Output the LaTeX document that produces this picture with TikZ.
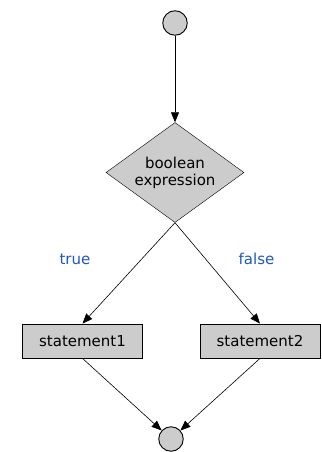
\documentclass[tikz,border=0pt]{standalone}
\usepackage{fontspec}
\setmainfont{DejaVu Sans}
\usetikzlibrary{shapes.geometric, arrows.meta, positioning}
\definecolor{labelblue}{RGB}{30,85,195}
\definecolor{boxgray}{RGB}{204,204,204}

\begin{document}
\begin{tikzpicture}[x=1pt,y=1pt,on grid,
    >={Triangle[length=10pt,width=8pt]},
    dot/.style={circle,draw,fill=boxgray,minimum size=24.5pt,inner sep=0pt,line width=0.9pt},
    test/.style={diamond,aspect=1.38,draw,fill=boxgray,minimum width=138pt,minimum height=100pt,
      inner sep=0pt,align=center,font=\fontsize{15}{17}\selectfont},
    stmt/.style={rectangle,draw,fill=boxgray,minimum width=120pt,minimum height=34pt,
      line width=0.8pt,font=\fontsize{15}{17}\selectfont},
    branch/.style={text=labelblue,font=\fontsize{15}{17}\selectfont}]
    \useasboundingbox (0,0) rectangle (321,-452);
    \node[dot] (start) at (175,-23) {};
    \node[test] (cond) [below=149.5pt of start] {boolean\\expression};
    \node[stmt] (s1) [below left=168.5pt and 92.5pt of cond] {statement1};
    \node[stmt] (s2) [below right=168.5pt and 85pt of cond] {statement2};
    \node[dot] (stop) at (171,-439) {};
    \node[branch] (yes) at (75,-259) {true};
    \node[branch] (no) at (256.5,-259) {false};
    \path[->,line width=0.6pt]
    (start) edge (cond)
    (cond.south) edge (s1.north)
    (cond.south) edge (s2.north)
    (s1.south) edge (stop)
    (s2.south) edge (stop);
\end{tikzpicture}
\end{document}
